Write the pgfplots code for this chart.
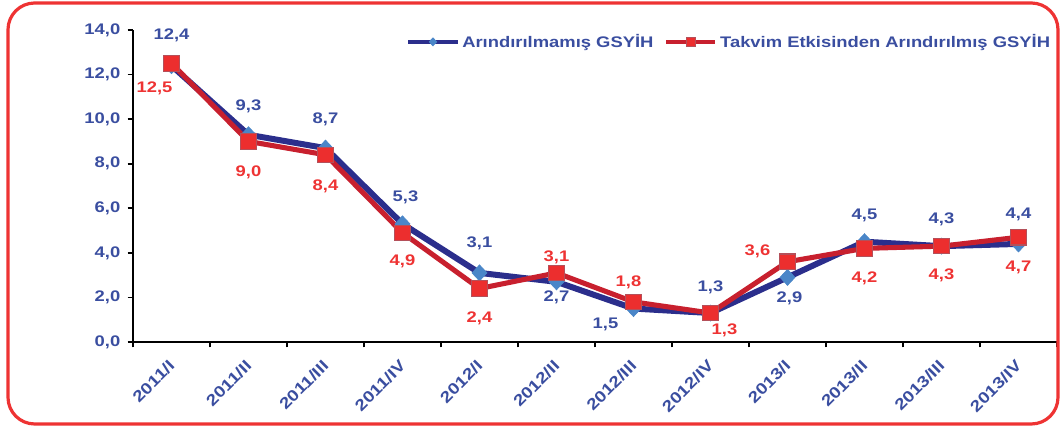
\documentclass[border=0pt]{standalone}
\usepackage{fontspec}
\setmainfont{Liberation Sans}[FakeStretch=1.2]
\usepackage{pgfplots}
\pgfplotsset{compat=1.18}
\usepackage{pgfplotstable}
\definecolor{blueline}{RGB}{43,46,140}
\definecolor{bluemark}{RGB}{74,134,200}
\definecolor{redline}{RGB}{200,32,46}
\definecolor{redmark}{RGB}{236,46,46}
\definecolor{rededge}{RGB}{180,80,90}
\definecolor{labelblue}{RGB}{58,78,160}
\definecolor{labelred}{RGB}{238,51,51}
\definecolor{framered}{RGB}{238,51,51}
\pgfplotsset{legend image code/.code={\draw[mark repeat=2,mark phase=2,#1] plot coordinates {(0cm,0cm) (0.65cm,0cm) (1.3cm,0cm)};}}

\pgfplotstableread{
x y dx dy
0 12.4 0 30
1 9.3 0 28
2 8.7 0 29
3 5.3 3 27
4 3.1 0 30
5 2.7 0 -16
6 1.5 -28 -16
7 1.3 0 26
8 2.9 2 -21
9 4.5 0 26
10 4.3 0 27
11 4.4 0 30
}\bluedata

\pgfplotstableread{
x y dx dy
0 12.5 -17 -25
1 9.0 0 -31
2 8.4 0 -32
3 4.9 0 -29
4 2.4 0 -30
5 3.1 0 16
6 1.8 -5 20
7 1.3 14 -17
8 3.6 -30 10
9 4.2 0 -30
10 4.3 0 -29
11 4.7 0 -30
}\reddata

\begin{document}
\begin{tikzpicture}
\useasboundingbox (-99.75pt,-63.75pt) rectangle (698.25pt,256.5pt);
\begin{axis}[
  at={(0pt,0pt)}, anchor=south west,
  scale only axis,
  width=693pt, height=234pt,
  xmin=-0.5, xmax=11.5, ymin=0, ymax=14,
  axis x line*=bottom, axis y line*=left,
  axis line style={black, line width=1.3pt, -},
  tick align=outside,
  major tick length=4pt,
  tick style={black, line width=1.3pt},
  ytick={0,2,...,14},
  xtick={-0.5,0.5,...,11.5},
  xticklabels={},
  extra x ticks={0,1,...,11},
  extra x tick labels={2011/I,2011/II,2011/III,2011/IV,2012/I,2012/II,2012/III,2012/IV,2013/I,2013/II,2013/III,2013/IV},
  extra x tick style={major tick length=0pt},
  xticklabel style={xshift=1pt, yshift=-15pt, rotate=45, anchor=east, font=\bfseries\fontsize{11.8}{12}\selectfont, text=labelblue, inner sep=1pt},
  yticklabel style={font=\bfseries\fontsize{11.5}{12}\selectfont, text=labelblue, xshift=-2pt},
  /pgf/number format/.cd, fixed, fixed zerofill, precision=1, use comma, assume math mode=true,
  /pgfplots/.cd,
  legend columns=2,
  legend style={draw=none, fill=none, at={(rel axis cs:1,1)}, anchor=north east, yshift=1pt, xshift=0pt,
    font=\bfseries\fontsize{11.5}{12}\selectfont, text=labelblue,
    /tikz/every even column/.append style={column sep=6pt}},
  legend cell align=left,
  clip=false,
]
\addplot[blueline, line width=4.5pt, mark=diamond*, mark size=6pt,
  mark options={fill=bluemark, draw=bluemark, line width=0.5pt, xscale=1.25},
  legend image post style={mark size=3pt, line width=3pt},
  nodes near coords,
  visualization depends on={\thisrow{dx} \as \dx},
  visualization depends on={\thisrow{dy} \as \dy},
  every node near coord/.append style={anchor=center, xshift={\dx*0.75pt}, yshift={\dy*0.75pt}, font=\bfseries\fontsize{11.5}{12}\selectfont, text=labelblue},
] table[x=x, y=y] {\bluedata};
\addlegendentry{Arındırılmamış GSYİH}
\addplot[redline, line width=3.8pt, mark=square*, mark size=5.8pt,
  mark options={fill=redmark, draw=rededge, line width=0.8pt},
  legend image post style={mark size=3.5pt, line width=3pt},
  nodes near coords,
  visualization depends on={\thisrow{dx} \as \dx},
  visualization depends on={\thisrow{dy} \as \dy},
  every node near coord/.append style={anchor=center, xshift={\dx*0.75pt}, yshift={\dy*0.75pt}, font=\bfseries\fontsize{11.5}{12}\selectfont, text=labelred},
] table[x=x, y=y] {\reddata};
\addlegendentry{Takvim Etkisinden Arındırılmış GSYİH}
\end{axis}
\draw[framered, line width=2.4pt, rounded corners=20pt] (-93.75pt,-61.5pt) rectangle (693.75pt,254.25pt);
\end{tikzpicture}
\end{document}
